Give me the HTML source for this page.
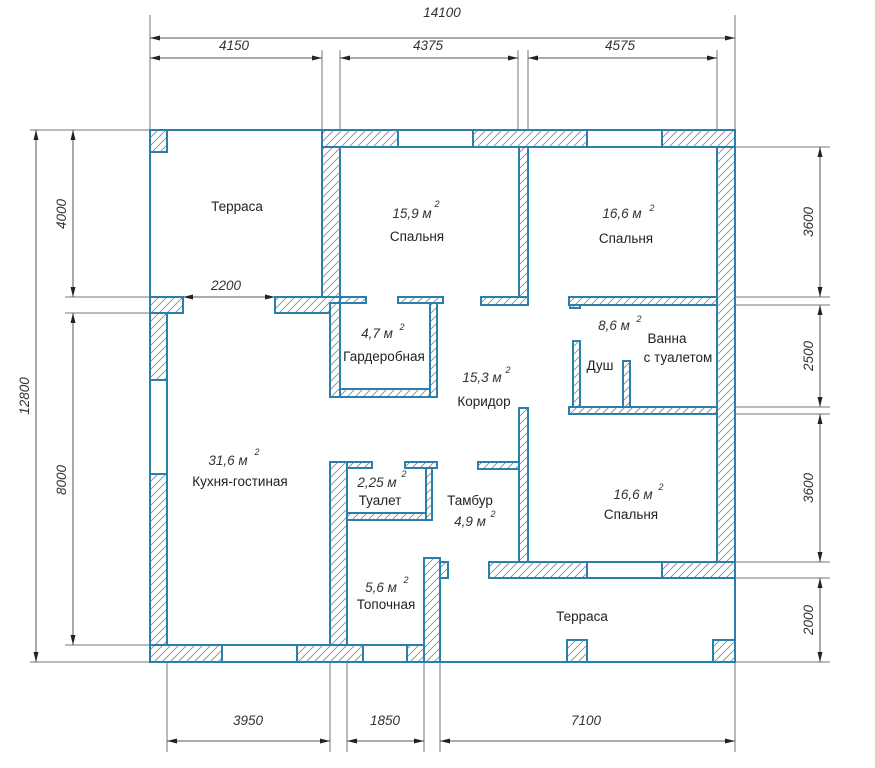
<!DOCTYPE html>
<html><head><meta charset="utf-8"><style>
html,body{margin:0;padding:0;background:#fff;width:875px;height:768px;overflow:hidden}
svg{display:block}
.w{fill:url(#h);stroke:#2a80aa;stroke-width:2}
.o{fill:#fff;stroke:#2a80aa;stroke-width:2}
.d{stroke:#555;stroke-width:1;fill:none}
.e{stroke:#777;stroke-width:1;fill:none}
.t{font-family:"Liberation Sans","DejaVu Sans",sans-serif;font-size:13.5px;fill:#222;text-anchor:middle}
.a{font-family:"Liberation Sans","DejaVu Sans",sans-serif;font-size:13.5px;fill:#333;font-style:italic;text-anchor:middle}
.s{font-size:9px}
</style></head><body>
<svg width="875" height="768" viewBox="0 0 875 768" xmlns="http://www.w3.org/2000/svg">
<defs>
<pattern id="h" patternUnits="userSpaceOnUse" width="8" height="8">
<rect width="8" height="8" fill="#fff"/><path d="M-1,9 L9,-1 M-1,1 L1,-1 M7,9 L9,7" stroke="#888" stroke-width="0.8"/>
</pattern>
<marker id="ar" markerWidth="10" markerHeight="6" refX="10" refY="3" orient="auto" markerUnits="userSpaceOnUse"><path d="M0,0.5 L10,3 L0,5.5z" fill="#222"/></marker>
<marker id="al" markerWidth="10" markerHeight="6" refX="0" refY="3" orient="auto" markerUnits="userSpaceOnUse"><path d="M10,0.5 L0,3 L10,5.5z" fill="#222"/></marker>
</defs>

<g class="e">
<line x1="150" y1="15" x2="150" y2="130"/><line x1="735" y1="15" x2="735" y2="130"/>
<line x1="322" y1="50" x2="322" y2="130"/><line x1="340" y1="50" x2="340" y2="130"/>
<line x1="518" y1="50" x2="518" y2="130"/><line x1="528" y1="50" x2="528" y2="130"/>
<line x1="717" y1="50" x2="717" y2="130"/>
<line x1="30" y1="130" x2="150" y2="130"/><line x1="30" y1="662" x2="150" y2="662"/>
<line x1="65" y1="297" x2="150" y2="297"/><line x1="65" y1="313" x2="150" y2="313"/>
<line x1="65" y1="645" x2="150" y2="645"/>
<line x1="735" y1="147" x2="830" y2="147"/><line x1="735" y1="297" x2="830" y2="297"/>
<line x1="735" y1="305" x2="830" y2="305"/><line x1="735" y1="407" x2="830" y2="407"/>
<line x1="735" y1="414" x2="830" y2="414"/><line x1="735" y1="562" x2="830" y2="562"/>
<line x1="735" y1="578" x2="830" y2="578"/><line x1="735" y1="662" x2="830" y2="662"/>
<line x1="167" y1="662" x2="167" y2="752"/><line x1="330" y1="662" x2="330" y2="752"/>
<line x1="347" y1="662" x2="347" y2="752"/><line x1="424" y1="662" x2="424" y2="752"/>
<line x1="440" y1="662" x2="440" y2="752"/><line x1="735" y1="662" x2="735" y2="752"/>
</g>
<g class="d">
<line x1="150" y1="38" x2="735" y2="38" marker-start="url(#al)" marker-end="url(#ar)"/>
<line x1="150" y1="58" x2="322" y2="58" marker-start="url(#al)" marker-end="url(#ar)"/>
<line x1="340" y1="58" x2="518" y2="58" marker-start="url(#al)" marker-end="url(#ar)"/>
<line x1="528" y1="58" x2="717" y2="58" marker-start="url(#al)" marker-end="url(#ar)"/>
<line x1="36" y1="130" x2="36" y2="662" marker-start="url(#al)" marker-end="url(#ar)"/>
<line x1="73" y1="130" x2="73" y2="297" marker-start="url(#al)" marker-end="url(#ar)"/>
<line x1="73" y1="313" x2="73" y2="645" marker-start="url(#al)" marker-end="url(#ar)"/>
<line x1="820" y1="147" x2="820" y2="297" marker-start="url(#al)" marker-end="url(#ar)"/>
<line x1="820" y1="305" x2="820" y2="407" marker-start="url(#al)" marker-end="url(#ar)"/>
<line x1="820" y1="414" x2="820" y2="562" marker-start="url(#al)" marker-end="url(#ar)"/>
<line x1="820" y1="578" x2="820" y2="662" marker-start="url(#al)" marker-end="url(#ar)"/>
<line x1="167" y1="741" x2="330" y2="741" marker-start="url(#al)" marker-end="url(#ar)"/>
<line x1="347" y1="741" x2="424" y2="741" marker-start="url(#al)" marker-end="url(#ar)"/>
<line x1="440" y1="741" x2="735" y2="741" marker-start="url(#al)" marker-end="url(#ar)"/>
<line x1="183" y1="297" x2="275" y2="297" marker-start="url(#al)" marker-end="url(#ar)"/>
</g>
<g class="a">
<text x="442" y="17">14100</text>
<text x="234" y="50">4150</text><text x="428" y="50">4375</text><text x="620" y="50">4575</text>
<text transform="translate(29,396) rotate(-90)">12800</text>
<text transform="translate(66,214) rotate(-90)">4000</text>
<text transform="translate(66,480) rotate(-90)">8000</text>
<text transform="translate(813,222) rotate(-90)">3600</text>
<text transform="translate(813,356) rotate(-90)">2500</text>
<text transform="translate(813,488) rotate(-90)">3600</text>
<text transform="translate(813,620) rotate(-90)">2000</text>
<text x="248" y="725">3950</text><text x="385" y="725">1850</text><text x="586" y="725">7100</text>
<text x="226" y="290">2200</text>
</g>

<g class="o" fill="none">
<line x1="150" y1="130" x2="322" y2="130"/>
<line x1="150" y1="130" x2="150" y2="297"/>
<line x1="440" y1="662" x2="735" y2="662"/>
<line x1="735" y1="578" x2="735" y2="662"/>
</g>

<g>
<rect class="w" x="150" y="130" width="17" height="22"/>
<rect class="w" x="322" y="130" width="76" height="17"/>
<rect class="o" x="398" y="130" width="75" height="17"/>
<rect class="w" x="473" y="130" width="114" height="17"/>
<rect class="o" x="587" y="130" width="75" height="17"/>
<rect class="w" x="662" y="130" width="73" height="17"/>
<rect class="w" x="717" y="147" width="18" height="431"/>
<rect class="w" x="322" y="147" width="18" height="166"/>
<rect class="w" x="275" y="297" width="65" height="16"/>
<rect class="w" x="150" y="297" width="33" height="16"/>
<rect class="w" x="150" y="313" width="17" height="67"/>
<rect class="o" x="150" y="380" width="17" height="94"/>
<rect class="w" x="150" y="474" width="17" height="171"/>
<rect class="w" x="519" y="147" width="9" height="158"/>
<rect class="w" x="481" y="297" width="47" height="8"/>
<rect class="w" x="340" y="297" width="26" height="6"/>
<rect class="w" x="398" y="297" width="45" height="6"/>
<rect class="w" x="330" y="303" width="10" height="94"/>
<rect class="w" x="430" y="303" width="7" height="94"/>
<rect class="w" x="340" y="389" width="90" height="8"/>
<rect class="w" x="569" y="297" width="148" height="8"/>
<rect class="w" x="570" y="305" width="10" height="3"/>
<rect class="w" x="569" y="407" width="148" height="7"/>
<rect class="w" x="573" y="341" width="7" height="66"/>
<rect class="w" x="623" y="361" width="7" height="46"/>
<rect class="w" x="519" y="408" width="9" height="154"/>
<rect class="w" x="478" y="462" width="41" height="7"/>
<rect class="w" x="489" y="562" width="98" height="16"/>
<rect class="o" x="587" y="562" width="75" height="16"/>
<rect class="w" x="662" y="562" width="73" height="16"/>
<rect class="w" x="330" y="462" width="17" height="183"/>
<rect class="w" x="347" y="462" width="25" height="6"/>
<rect class="w" x="405" y="462" width="32" height="6"/>
<rect class="w" x="426" y="468" width="6" height="52"/>
<rect class="w" x="347" y="513" width="79" height="7"/>
<rect class="w" x="424" y="558" width="16" height="104"/>
<rect class="w" x="440" y="562" width="8" height="16"/>
<rect class="w" x="150" y="645" width="72" height="17"/>
<rect class="o" x="222" y="645" width="75" height="17"/>
<rect class="w" x="297" y="645" width="66" height="17"/>
<rect class="o" x="363" y="645" width="44" height="17"/>
<rect class="w" x="407" y="645" width="17" height="17"/>
<rect class="w" x="567" y="640" width="20" height="22"/>
<rect class="w" x="713" y="640" width="22" height="22"/>
</g>

<g class="t">
<text x="237" y="211">Терраса</text>
<text x="417" y="241">Спальня</text>
<text x="626" y="243">Спальня</text>
<text x="384" y="361">Гардеробная</text>
<text x="667" y="343">Ванна</text>
<text x="678" y="362">с туалетом</text>
<text x="600" y="370">Душ</text>
<text x="484" y="406">Коридор</text>
<text x="240" y="486">Кухня-гостиная</text>
<text x="380" y="505">Туалет</text>
<text x="470" y="505">Тамбур</text>
<text x="631" y="519">Спальня</text>
<text x="386" y="609">Топочная</text>
<text x="582" y="621">Терраса</text>
</g>
<g class="a">
<text x="412" y="218">15,9 м</text><text x="437" y="207" class="s">2</text>
<text x="622" y="218">16,6 м</text><text x="652" y="211" class="s">2</text>
<text x="377" y="338">4,7 м</text><text x="402" y="330" class="s">2</text>
<text x="614" y="330">8,6 м</text><text x="639" y="322" class="s">2</text>
<text x="482" y="382">15,3 м</text><text x="508" y="373" class="s">2</text>
<text x="228" y="465">31,6 м</text><text x="257" y="455" class="s">2</text>
<text x="377" y="487">2,25 м</text><text x="404" y="477" class="s">2</text>
<text x="470" y="526">4,9 м</text><text x="493" y="517" class="s">2</text>
<text x="633" y="499">16,6 м</text><text x="661" y="490" class="s">2</text>
<text x="381" y="592">5,6 м</text><text x="406" y="583" class="s">2</text>
</g>
</svg>
</body></html>
